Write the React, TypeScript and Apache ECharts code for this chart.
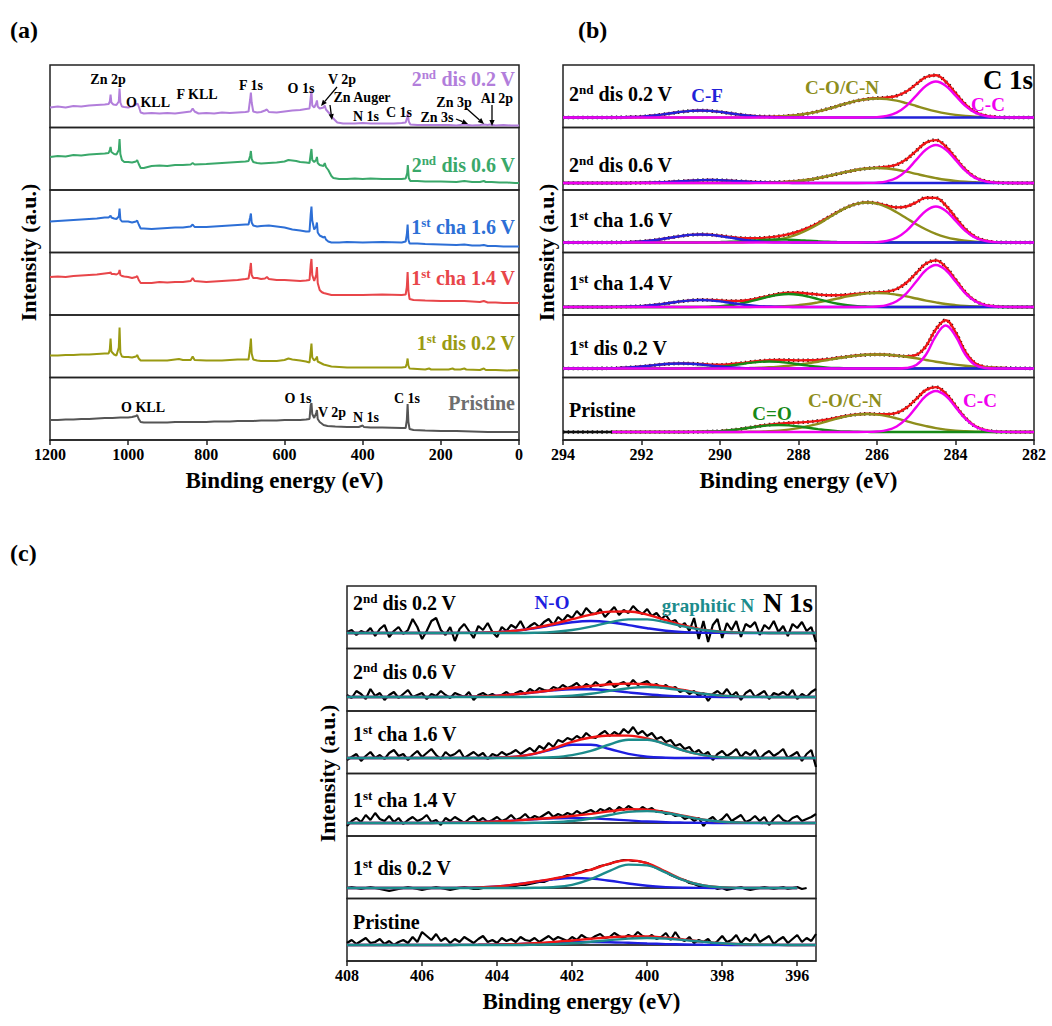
import React, { useEffect, useRef } from 'react';
import * as echarts from 'echarts';

const FONT = '"Liberation Serif", "Times New Roman", serif';

// ---------------- sample names (top to bottom) ----------------
const SAMPLE_ORD = ['2', '2', '1', '1', '1', ''];
const SAMPLE_SUP = ['nd', 'nd', 'st', 'st', 'st', ''];
const SAMPLE_REST = [' dis 0.2 V', ' dis 0.6 V', ' cha 1.6 V', ' cha 1.4 V', ' dis 0.2 V', 'Pristine'];

// ---------------- (a) survey spectra : [binding energy, intensity] ----------------
const SURVEY_DIS2_02 = [[1200,20],[1180,21],[1160,20],[1140,21.5],[1120,21],[1100,22],[1080,22.5],[1060,23],[1050,23.5],[1047,26],[1045,33],[1043,25],[1038,23],[1030,22.5],[1024,26],[1022,39],[1020,25],[1016,21],[1010,20.5],[1000,20],[990,21],[980,23],[976,24],[972,20],[968,15],[960,14],[940,14.5],[920,14],[900,14.5],[880,14],[860,15],[840,16],[835,19],[830,16],[820,14],[800,14.5],[780,14],[760,15],[740,14.5],[720,15],[700,15.5],[692,16],[688,28],[686,35],[684,25],[680,16],[670,15],[660,15.5],[650,17],[645,18],[640,15.5],[620,15],[600,16],[580,17],[560,17.5],[545,18.5],[536,19],[533,30],[531,37],[529,22],[524,20],[519,24],[517,27],[515,21],[510,19],[500,20],[497,22],[494,18],[485,14],[475,9],[465,5],[450,4],[420,4],[400,4.5],[380,4],[350,4],[320,4],[300,4.5],[290,5],[286,10],[284.5,14],[282,6],[278,3],[260,2.5],[240,2.5],[200,2.5],[180,2.5],[160,2],[140,3],[120,2],[100,2.5],[90,3],[80,2.5],[74,3],[60,2],[40,2.5],[20,2],[0,2]];
const SURVEY_DIS2_06 = [[1200,33],[1180,34],[1160,33.5],[1140,35],[1120,34.5],[1100,35.5],[1080,36],[1060,36.5],[1050,37],[1047,40],[1045,43],[1043,38],[1036,36],[1030,35.5],[1024,40],[1022,51],[1020,36],[1016,30],[1010,28],[1000,28],[990,27.5],[980,28.5],[977,30],[973,26],[968,22],[960,22],[940,24],[920,24.5],[900,24],[880,25],[860,25],[840,25.5],[835,27],[830,25.5],[800,26],[780,26.5],[760,27],[740,27.5],[720,28],[700,28.5],[692,29],[688,34],[686,39],[684,31],[680,28],[670,27],[660,26.5],[640,27],[620,27.5],[610,28],[600,28.5],[590,30],[580,29.5],[570,29],[560,28],[545,27.5],[536,27],[533,36],[531,41],[529,30],[524,28],[519,30],[517,33],[515,27],[510,25],[500,24],[497,27],[494,23],[488,20],[480,14],[475,12],[460,11],[440,11],[420,11.5],[400,11],[380,11.5],[350,11],[320,11],[300,11],[290,11.5],[286,17],[284.5,25],[282,12],[278,9],[260,9],[240,8.5],[200,8.5],[160,8],[140,9],[120,8],[100,8],[90,9],[85,8],[70,8],[50,7.5],[30,7.5],[10,7],[0,7]];
const SURVEY_CHA1_16 = [[1200,31],[1180,31.5],[1160,32],[1140,32.5],[1120,33],[1100,33.5],[1080,34],[1060,35],[1050,35],[1047,36],[1045,37],[1043,35],[1036,34],[1030,33.5],[1024,36],[1022,44],[1020,33],[1016,31],[1010,31],[1000,31],[990,30],[980,31],[977,32],[973,28],[968,24],[960,24],[940,23.5],[920,24],[900,24.5],[880,25],[860,25],[840,26],[835,28],[830,25.5],[800,25.5],[780,26],[760,26.5],[740,27],[720,27.5],[700,28],[692,28],[688,35],[686,39],[684,30],[680,27],[670,26],[660,26.5],[640,27],[620,26],[600,25],[580,23],[560,22],[545,21],[536,21],[533,38],[531,46],[529,32],[524,23],[519,26],[517,30],[515,20],[510,17],[500,15],[497,16],[494,13],[488,11],[480,10],[460,10],[440,10.5],[400,10],[350,10.5],[300,10],[290,11],[287,18],[285,28],[283,13],[280,9],[260,9],[240,8.5],[200,8],[160,7.5],[140,8],[120,7],[100,7],[90,7.5],[80,6.5],[60,6.5],[40,6],[20,6],[0,6]];
const SURVEY_CHA1_14 = [[1200,38],[1180,38.5],[1160,38],[1140,39],[1120,39.5],[1100,40],[1080,40.5],[1060,41.5],[1050,42],[1047,42],[1045,43],[1043,41],[1036,41],[1030,40.5],[1024,42],[1022,45],[1020,40],[1016,39],[1010,38.5],[1000,38],[990,37],[980,38],[977,39],[973,35],[968,32],[960,32],[940,32],[920,33],[900,32.5],[880,33],[860,33],[840,34],[835,37],[830,34],[800,33],[780,33.5],[760,34],[740,34.5],[720,35],[700,36],[692,36.5],[688,46],[686,52],[684,40],[680,37],[670,37],[660,36],[650,36.5],[645,38],[640,36],[620,35],[600,35],[580,34.5],[560,34],[545,34.5],[536,35],[533,50],[531,56],[529,40],[524,34],[519,40],[517,48],[515,32],[510,25],[505,23],[500,22],[490,21],[480,20],[450,20],[400,20],[350,20.5],[300,20],[290,20.5],[287,28],[285,43],[283,24],[280,16],[270,15],[240,14.5],[200,14],[160,14],[140,14],[120,13.5],[100,13],[90,14],[80,12.5],[60,12.5],[40,12],[20,12],[0,12]];
const SURVEY_DIS1_02 = [[1200,22],[1180,22],[1160,22.5],[1140,22.5],[1120,23],[1100,23],[1080,23.5],[1060,24],[1050,24],[1047,28],[1045,39],[1043,26],[1036,23],[1030,22],[1024,30],[1022,50],[1020,25],[1016,21],[1010,20.5],[1000,20.5],[990,20],[980,21],[977,22.5],[973,19],[968,17],[960,17],[940,17],[920,17],[900,17],[880,18],[870,18.5],[860,17.5],[840,17.5],[835,21],[830,17.5],[800,17],[780,17],[760,17],[740,17.5],[720,18],[700,18],[692,18],[688,30],[686,39],[684,24],[680,18],[670,17],[660,16.5],[640,16.5],[620,16.5],[610,17],[600,17.5],[590,19],[580,18],[560,17],[545,16],[536,15],[533,26],[531,34],[529,20],[524,17],[519,19],[517,21],[515,16],[510,15],[505,14],[500,13],[490,12],[480,11],[460,10.5],[440,10],[400,10],[350,10],[300,10],[290,10.5],[287,14],[285,19],[283,12],[280,9],[260,8.5],[240,8],[230,9],[225,8],[200,8],[180,8],[170,9],[165,8],[150,8],[140,9],[135,8],[100,7.5],[90,9],[85,7.5],[60,7.5],[30,7],[10,7.5],[0,7]];
const SURVEY_PRISTINE = [[1200,20],[1180,20],[1160,20.5],[1140,20.5],[1120,21],[1100,21],[1080,21.5],[1060,22],[1040,22],[1020,22.5],[1000,22.5],[990,23],[980,24],[977,25],[973,21],[968,18],[960,17.5],[940,17.5],[920,17.5],[900,17.5],[880,18],[860,18],[840,18],[820,18],[800,18],[780,18.5],[760,18.5],[740,18.5],[720,19],[700,19],[680,19],[660,19.5],[640,19.5],[620,19.5],[600,20],[580,20],[560,20],[545,20.5],[536,21],[533,35],[531,37],[529,26],[524,22],[519,27],[517,30],[515,21],[510,18],[500,15],[490,14],[470,13.5],[440,13],[410,13],[400,14.5],[397,13],[380,12.5],[350,12.5],[300,12],[290,12],[287,20],[285,36],[283,18],[280,11],[270,10],[240,9.5],[200,9],[160,9],[120,8.5],[80,8],[40,8],[0,8]];
const SURVEYS = [SURVEY_DIS2_02, SURVEY_DIS2_06, SURVEY_CHA1_16, SURVEY_CHA1_14, SURVEY_DIS1_02, SURVEY_PRISTINE];
const SURVEY_TICKS = [0, 200, 400, 600, 800, 1000, 1200];

// ---------------- (b) C 1s fitted components (0.25 eV steps, listed from start energy downward) ----------------
const C1S_STEP = 0.25;
const C1S_CC_START = [286.25, 286.25, 286.25, 286.25, 285.25, 286.25];
const C1S_CC = [
  [0.1,0.4,1.6,4.9,11.7,21.9,31.8,36,31.8,21.9,11.7,4.9,1.6,0.4,0.1],
  [0.1,0.4,1.7,5.1,12.4,23.1,33.5,38,33.5,23.1,12.4,5.1,1.7,0.4,0.1],
  [0.1,0.4,1.6,4.9,11.7,21.9,31.8,36,31.8,21.9,11.7,4.9,1.6,0.4,0.1],
  [0.1,0.5,1.8,5.7,13.7,25.5,37,42,37,25.5,13.7,5.7,1.8,0.5,0.1],
  [0.5,3.4,14,32.5,43,32.5,14,3.4,0.5],
  [0.1,0.5,1.8,5.5,13.3,24.9,36.2,41,36.2,24.9,13.3,5.5,1.8,0.5,0.1],
];
const C1S_CO_START = [289.0, 289.0, 289.25, 289.0, 289.75, 289.25];
const C1S_CO = [
  [0.2,0.4,0.8,1.5,2.6,4.1,6.2,8.7,11.5,14.3,16.8,18.4,19,18.4,16.8,14.3,11.5,8.7,6.2,4.1,2.6,1.5,0.8,0.4,0.2],
  [0.2,0.3,0.7,1.2,2.0,3.2,4.9,6.9,9.1,11.3,13.2,14.5,15,14.5,13.2,11.3,9.1,6.9,4.9,3.2,2.0,1.2,0.7,0.3,0.2],
  [0.4,0.9,1.8,3.2,5.4,8.6,13,18.3,24.3,30.2,35.3,38.8,40,38.8,35.3,30.2,24.3,18.3,13,8.6,5.4,3.2,1.8,0.9,0.4],
  [0.2,0.3,0.6,1.1,1.9,3.0,4.6,6.4,8.5,10.6,12.3,13.6,14,13.6,12.3,10.6,8.5,6.4,4.6,3.0,1.9,1.1,0.6,0.3,0.2],
  [0.2,0.3,0.5,0.8,1.2,1.9,2.8,3.9,5.3,6.8,8.5,10.2,11.7,12.9,13.7,14,13.7,12.9,11.7,10.2,8.5,6.8,5.3,3.9,2.8,1.9,1.2,0.8,0.5,0.3,0.2],
  [0.2,0.4,0.8,1.4,2.4,3.9,5.9,8.2,10.9,13.6,15.9,17.4,18,17.4,15.9,13.6,10.9,8.2,5.9,3.9,2.4,1.4,0.8,0.4,0.2],
];
const C1S_CF_START = [292.75, 292.25, 292.75, 292.75, 293.0, 0];
const C1S_CF = [
  [0.1,0.2,0.5,0.9,1.7,2.9,4.2,5.6,6.6,7,6.6,5.6,4.2,2.9,1.7,0.9,0.5,0.2,0.1],
  [0.1,0.2,0.4,0.7,1.2,1.8,2.4,2.8,3,2.8,2.4,1.8,1.2,0.7,0.4,0.2,0.1],
  [0.1,0.2,0.5,1.1,2.0,3.3,4.9,6.4,7.6,8,7.6,6.4,4.9,3.3,2.0,1.1,0.5,0.2,0.1],
  [0.1,0.2,0.5,0.9,1.7,2.9,4.2,5.6,6.6,7,6.6,5.6,4.2,2.9,1.7,0.9,0.5,0.2,0.1],
  [0.1,0.3,0.7,1.2,2.0,3.0,4.0,4.7,5,4.7,4.0,3.0,2.0,1.2,0.7,0.3,0.1],
  [],
];
const C1S_CDO_START = [0, 0, 290.5, 290.5, 291.0, 290.75];
const C1S_CDO = [
  [],
  [],
  [0.1,0.2,0.4,0.7,1.2,1.8,2.4,2.8,3,2.8,2.4,1.8,1.2,0.7,0.4,0.2,0.1],
  [0.1,0.4,0.9,1.8,3.2,5.3,7.9,10.4,12.3,13,12.3,10.4,7.9,5.3,3.2,1.8,0.9,0.4,0.1],
  [0.1,0.2,0.5,0.9,1.7,2.9,4.2,5.6,6.6,7,6.6,5.6,4.2,2.9,1.7,0.9,0.5,0.2,0.1],
  [0.1,0.2,0.5,0.9,1.7,2.9,4.2,5.6,6.6,7,6.6,5.6,4.2,2.9,1.7,0.9,0.5,0.2,0.1],
];
const C1S_FIT_FROM = [294, 294, 294, 294, 294, 292.75];
const C1S_TICKS = [282, 284, 286, 288, 290, 292, 294];

// ---------------- (c) N 1s : fits on 0.5 eV steps from 408 eV, raw data on 0.125 eV steps from 408 eV ----------------
const N1S_FIT_STEP = 0.5;
const N1S_DATA_STEP = 0.125;
const N1S_NO = [
  [0,0,0,0,0,0,0.1,0.3,0.9,2.3,4.8,7.9,10.8,12,10.8,7.9,4.8,2.3,0.9,0.3,0.1,0,0,0,0,0],
  [0,0,0,0,0,0,0.2,0.6,1.4,2.8,4.6,6.6,7.8,7.8,6.6,4.6,2.8,1.4,0.6,0.2,0,0,0,0,0,0],
  [0,0,0,0,0,0,0,0,0.3,1.3,4.1,9.0,13.3,13.3,9.0,4.1,1.3,0.3,0,0,0,0,0,0,0,0],
  [0,0,0,0,0,0.1,0.4,0.8,1.5,2.6,3.7,4.6,5,4.6,3.7,2.6,1.5,0.8,0.4,0.1,0,0,0,0,0,0],
  [0,0,0,0,0,0,0.2,0.6,1.6,3.5,6.1,8.6,10,9.4,7.2,4.5,2.2,0.9,0.3,0.1,0,0,0,0,0],
  [0,0,0,0,0,0,0.1,0.2,0.5,0.9,1.5,2.2,2.8,3,2.8,2.2,1.5,0.9,0.5,0.2,0.1,0,0,0,0,0],
];
const N1S_GN = [
  [0,0,0,0,0,0,0,0,0,0,0.3,1.1,3.0,6.4,10.6,13.6,13.6,10.6,6.4,3.0,1.1,0.3,0.1,0,0,0],
  [0,0,0,0,0,0,0,0,0,0,0.1,0.4,1.4,3.2,6.1,8.8,10,8.8,6.1,3.2,1.4,0.4,0.1,0,0,0],
  [0,0,0,0,0,0,0,0,0,0,0.2,0.8,2.9,7.2,13.5,18.3,18.3,13.5,7.2,2.9,0.8,0.2,0,0,0,0],
  [0,0,0,0,0,0,0,0,0,0,0.2,0.7,2.0,4.5,8.0,11.1,11.9,10.0,6.6,3.3,1.3,0.4,0.1,0,0,0],
  [0,0,0,0,0,0,0,0,0,0,0.2,0.8,3.2,8.9,17.1,23.4,22.6,15.4,7.4,2.5,0.6,0.1,0,0,0],
  [0,0,0,0,0,0,0,0,0,0,0.3,0.8,1.7,3.2,4.9,6.4,7,6.4,4.9,3.2,1.7,0.8,0.3,0.1,0,0],
];
const N1S_DATA = [
  [1,3,-2,2,0,5,-3,4,8,-4,2,6,-1,3,14,6,
   -6,2,12,15,3,-2,6,-8,4,9,2,-5,7,3,10,1,
   -4,6,2,8,5,12,3,7,10,6,11,14,8,16,12,18,
   15,22,17,25,20,19,24,16,21,26,18,23,20,27,22,19,
   24,17,20,14,18,11,13,6,10,2,15,-6,12,-9,8,14,
   -5,10,3,12,-4,9,6,11,-2,8,4,12,1,7,-3,9,5,11,2,6,-9],
  [2,-1,6,3,-2,8,1,4,-3,2,5,-1,3,7,0,2,
   4,-2,3,1,6,2,-1,4,2,0,5,-3,2,4,1,3,
   0,2,5,1,4,6,3,8,5,9,7,6,10,8,12,9,
   11,14,9,13,10,15,11,12,16,10,13,15,11,17,12,14,
   16,11,13,9,12,8,10,5,7,3,6,1,4,-4,3,6,
   2,8,1,5,-3,4,7,0,3,6,-2,4,2,5,1,7,-2,3,0,5,8],
  [-2,1,4,-3,2,6,0,3,-1,5,8,2,4,-2,3,7,
   1,5,9,3,-1,6,2,4,8,0,3,6,2,5,-1,4,
   2,6,3,5,8,4,7,10,6,12,9,15,11,18,16,20,
   18,22,19,25,21,20,24,27,22,26,23,29,25,31,24,27,
   22,25,19,21,16,18,12,14,9,11,5,8,3,6,-2,4,
   7,2,5,9,1,6,3,8,-1,4,7,2,5,9,0,3,6,-3,4,8,-9],
  [-3,2,5,1,8,3,10,4,2,7,1,5,-1,3,6,2,
   4,8,1,3,-2,5,2,6,3,0,4,7,2,5,1,3,
   6,2,4,8,3,5,9,4,7,5,8,11,6,9,7,10,
   8,12,9,11,13,10,14,12,15,11,16,13,17,14,12,16,
   13,15,11,12,9,10,7,8,4,6,2,5,-3,3,6,1,
   4,9,2,5,8,1,3,7,2,6,-2,4,8,3,1,5,7,2,4,6,9],
  [0,1,0,-1,0,1,0,-1,-2,-3,-2,-1,0,1,0,-1,
   -2,-1,0,1,0,-1,-2,-1,0,1,0,-1,-1,0,1,0,
   0,1,1,2,2,3,3,4,5,6,6,8,9,10,11,13,
   13,15,16,18,18,20,22,23,24,26,27,28,28,27,27,26,
   25,22,20,18,16,13,11,9,8,5,4,2,2,0,1,-1,
   0,-2,-1,0,1,-1,-2,-1,0,1,0,-1,0,1,-1,0,1,-1,0],
  [2,5,1,4,7,2,3,6,1,4,0,3,5,2,8,3,
   13,9,5,11,4,7,2,6,3,8,5,2,6,9,3,5,
   2,7,4,6,3,8,5,4,7,3,6,9,5,8,6,4,
   8,5,10,7,6,9,11,7,8,12,9,7,10,8,13,9,
   7,10,6,8,12,5,13,6,4,8,2,5,3,6,0,4,
   9,3,5,10,2,7,4,11,3,6,9,1,5,8,2,6,10,3,7,4,11],
];
const N1S_TICKS = [396, 398, 400, 402, 404, 406, 408];

// ---------------- layout / style ----------------
const PANEL_H = 62.5;
const A_BOX = { left: 50, top: 65, width: 469 };
const B_BOX = { left: 563, top: 65, width: 471 };
const C_BOX = { left: 347, top: 586, width: 469 };
const C1S_BASE_PX = [10, 7, 10, 8, 9, 8];
const N1S_BASE_PX = [15.5, 14, 15.5, 13, 10.5, 16];
const SURVEY_COLORS = ['#B27EDB', '#3AA86A', '#2D6FD6', '#E8464A', '#9A9A12', '#555555'];
const SURVEY_LABEL_COLORS = ['#B27EDB', '#3AA86A', '#2D6FD6', '#E8464A', '#9A9A12', '#6E6E6E'];
const COL = { cc: '#F000F0', co: '#8E8E1C', cf: '#2222D8', cdo: '#178A17', env: '#F01414', data: '#111111', no: '#1E1EE0', gn: '#1C8C8C' };

function place(grid: number[], start: number, vals: number[], step: number) {
  return grid.map((x) => {
    const k = Math.round((start - x) / step);
    return k >= 0 && k < vals.length ? vals[k] : 0;
  });
}

function sampleRich(i: number, size: number, color: string) {
  const n = { fontSize: size, lineHeight: size + 3, fontFamily: FONT, fontWeight: 'bold', fill: color, color, verticalAlign: 'middle' };
  const s = { fontSize: Math.round(size * 0.63), lineHeight: Math.round(size * 0.63), fontFamily: FONT, fontWeight: 'bold', fill: color, color, verticalAlign: 'top' };
  const text = SAMPLE_SUP[i] ? `{n|${SAMPLE_ORD[i]}}{s|${SAMPLE_SUP[i]}}{n|${SAMPLE_REST[i]}}` : `{n|${SAMPLE_REST[i]}}`;
  return { text, rich: { n, s } };
}

function txt(x: number, y: number, text: string, size: number, color: string, align = 'center', extra: any = {}) {
  return {
    type: 'text', x, y, z: 100, silent: true,
    style: { text, fill: color, font: `bold ${size}px ${FONT}`, fontSize: size, fontWeight: 'bold', fontFamily: FONT, textAlign: align, align, verticalAlign: 'middle', textVerticalAlign: 'middle', ...extra },
  };
}

function sampleText(x: number, y: number, i: number, size: number, color: string, align: string) {
  const r = sampleRich(i, size, color);
  return {
    type: 'text', x, y, z: 100, silent: true,
    style: { text: r.text, rich: r.rich, fill: color, fontSize: size, fontFamily: FONT, fontWeight: 'bold', textAlign: align, align, verticalAlign: 'middle', textVerticalAlign: 'middle' },
  };
}

function arrow(x1: number, y1: number, x2: number, y2: number) {
  const a = Math.atan2(y2 - y1, x2 - x1);
  const L = 6, W = 2.6;
  const bx = x2 - L * Math.cos(a), by = y2 - L * Math.sin(a);
  const px = -Math.sin(a) * W, py = Math.cos(a) * W;
  return [
    { type: 'line', z: 100, silent: true, shape: { x1, y1, x2: bx, y2: by }, style: { stroke: '#000', lineWidth: 1.3 } },
    { type: 'polygon', z: 100, silent: true, shape: { points: [[x2, y2], [bx + px, by + py], [bx - px, by - py]] }, style: { fill: '#000' } },
  ];
}

function buildOption() {
  const grid: any[] = [];
  const xAxis: any[] = [];
  const yAxis: any[] = [];
  const series: any[] = [];

  const addPanel = (box: any, row: number, xmin: number, xmax: number, ymin: number, ymax: number, ticks: number[]) => {
    const idx = grid.length;
    const isBottom = row === 5;
    grid.push({ left: box.left, top: box.top + row * PANEL_H, width: box.width, height: PANEL_H, show: true, borderColor: '#222', borderWidth: 1.5, backgroundColor: 'transparent', containLabel: false });
    xAxis.push({
      gridIndex: idx, type: 'value', min: xmin, max: xmax, inverse: true, show: isBottom,
      axisLine: { show: true, onZero: false, lineStyle: { color: '#222', width: 1.5 } },
      axisTick: { show: true, inside: false, length: 5, lineStyle: { color: '#222', width: 1.5 }, customValues: ticks },
      axisLabel: { show: true, margin: 6, color: '#000', fontFamily: FONT, fontWeight: 'bold', fontSize: 16, customValues: ticks, formatter: (v: number) => String(v) },
      splitLine: { show: false },
      name: isBottom ? 'Binding energy (eV)' : '', nameLocation: 'middle', nameGap: 29,
      nameTextStyle: { color: '#000', fontFamily: FONT, fontWeight: 'bold', fontSize: 23 },
    });
    yAxis.push({ gridIndex: idx, type: 'value', min: ymin, max: ymax, show: false, splitLine: { show: false } });
    return idx;
  };
  const line = (ai: number, data: any[], color: string, width: number, smooth: any, extra: any = {}) => {
    series.push({
      type: 'line', xAxisIndex: ai, yAxisIndex: ai, data, showSymbol: false, symbol: 'none', silent: true,
      smooth, clip: true, animation: false, lineStyle: { color, width, ...(extra.lineStyle || {}) },
    });
  };

  // (a)
  for (let r = 0; r < 6; r++) {
    const ai = addPanel(A_BOX, r, 0, 1200, 0, PANEL_H, SURVEY_TICKS);
    line(ai, SURVEYS[r], SURVEY_COLORS[r], 2, false);
  }

  // (b)
  const c1sGrid: number[] = [];
  for (let k = 0; k <= Math.round((294 - 282) / C1S_STEP); k++) c1sGrid.push(294 - k * C1S_STEP);
  for (let r = 0; r < 6; r++) {
    const base = C1S_BASE_PX[r];
    const ai = addPanel(B_BOX, r, 282, 294, -base, PANEL_H - base, C1S_TICKS);
    const g = c1sGrid.filter((x) => x <= C1S_FIT_FROM[r] + 1e-9);
    const cc = place(g, C1S_CC_START[r], C1S_CC[r], C1S_STEP);
    const co = place(g, C1S_CO_START[r], C1S_CO[r], C1S_STEP);
    const cf = place(g, C1S_CF_START[r], C1S_CF[r], C1S_STEP);
    const cdo = place(g, C1S_CDO_START[r], C1S_CDO[r], C1S_STEP);
    const env = g.map((_, i) => cc[i] + co[i] + cf[i] + cdo[i]);
    const dataY = c1sGrid.map((x) => { const i = g.indexOf(x); return i >= 0 ? env[i] : 0; });
    if (C1S_FIT_FROM[r] < 294) {
      line(ai, c1sGrid.filter((x) => x >= C1S_FIT_FROM[r] - 1e-9).map((x) => [x, 0]), COL.data, 2.4, false);
    }
    line(ai, c1sGrid.map((x, i) => [x, dataY[i]]), COL.data, 3.6, 0.4, { lineStyle: { type: [1.4, 3.4] } });
    line(ai, g.map((x, i) => [x, env[i]]), COL.env, 2.4, 0.4);
    line(ai, g.map((x, i) => [x, co[i]]), COL.co, 2.4, 0.4);
    if (C1S_CDO[r].length) line(ai, g.map((x, i) => [x, cdo[i]]), COL.cdo, 2.4, 0.4);
    if (C1S_CF[r].length) line(ai, g.map((x, i) => [x, cf[i]]), COL.cf, 2.4, 0.4);
    line(ai, g.map((x, i) => [x, cc[i]]), COL.cc, 2.4, 0.4);
  }

  // (c)
  for (let r = 0; r < 6; r++) {
    const base = N1S_BASE_PX[r];
    const ai = addPanel(C_BOX, r, 395.5, 408, -base, PANEL_H - base, N1S_TICKS);
    const data = N1S_DATA[r].map((v, i) => [408 - i * N1S_DATA_STEP, v]);
    const fx = N1S_NO[r].map((_, i) => 408 - i * N1S_FIT_STEP);
    const env = fx.map((_, i) => N1S_NO[r][i] + N1S_GN[r][i]);
    line(ai, data, '#000', 2.2, false);
    line(ai, fx.map((x) => [x, 0]), '#000', 1.6, false);
    line(ai, fx.map((x, i) => [x, N1S_NO[r][i]]), COL.no, 2.4, 0.4);
    line(ai, fx.map((x, i) => [x, env[i]]), COL.env, 2.4, 0.4);
    line(ai, fx.map((x, i) => [x, N1S_GN[r][i]]), COL.gn, 2.4, 0.4);
  }

  // ---------------- graphics (texts) ----------------
  const g: any[] = [];
  g.push(txt(10, 30, '(a)', 24, '#000', 'left'));
  g.push(txt(578, 30, '(b)', 24, '#000', 'left'));
  g.push(txt(10, 553, '(c)', 24, '#000', 'left'));
  const yTitle = (x: number, y: number) => { const t: any = txt(x, y, 'Intensity (a.u.)', 22, '#000', 'center'); t.rotation = Math.PI / 2; return t; };
  g.push(yTitle(28, A_BOX.top + 3 * PANEL_H));
  g.push(yTitle(546, B_BOX.top + 3 * PANEL_H));
  g.push(yTitle(327, C_BOX.top + 3 * PANEL_H));

  // (a) sample names
  const aY = [79, 165, 227, 278, 343, 403];
  for (let r = 0; r < 6; r++) g.push(sampleText(515, aY[r], r, 20, SURVEY_LABEL_COLORS[r], 'right'));
  // (a) peak labels
  const pk = 14;
  [['Zn 2p', 108, 79], ['O KLL', 148, 102], ['F KLL', 197, 94], ['F 1s', 251, 85], ['O 1s', 301, 88], ['V 2p', 342, 79],
   ['Zn Auger', 362, 97], ['N 1s', 366, 116], ['C 1s', 399, 112], ['Zn 3s', 437, 117], ['Zn 3p', 454, 102], ['Al 2p', 497, 98],
   ['O KLL', 143, 407], ['O 1s', 298, 398], ['V 2p', 332, 412], ['N 1s', 366, 417], ['C 1s', 407, 398]].forEach((a: any) => g.push(txt(a[1], a[2], a[0], pk, '#000')));
  g.push(...arrow(337, 87, 321, 106));
  g.push(...arrow(330, 105, 332, 120));
  g.push(...arrow(456, 119, 468, 124));
  g.push(...arrow(466, 108, 484, 124));
  g.push(...arrow(492, 105, 492, 126));

  // (b)
  const bY = [94, 165, 220, 283, 348, 410];
  for (let r = 0; r < 6; r++) g.push(sampleText(569, bY[r], r, 20, '#000', 'left'));
  g.push(txt(707, 95, 'C-F', 19, COL.cf));
  g.push(txt(842, 87, 'C-O/C-N', 19, COL.co));
  g.push(txt(1008, 80, 'C 1s', 27, '#000'));
  g.push(txt(988, 104, 'C-C', 19, COL.cc));
  g.push(txt(772, 413, 'C=O', 19, COL.cdo));
  g.push(txt(845, 400, 'C-O/C-N', 19, COL.co));
  g.push(txt(980, 400, 'C-C', 19, COL.cc));

  // (c)
  const cY = [603, 672, 734, 800, 868, 922];
  for (let r = 0; r < 6; r++) g.push(sampleText(353, cY[r], r, 20, '#000', 'left'));
  g.push(txt(552, 602, 'N-O', 19, COL.no));
  g.push(txt(708, 605, 'graphitic N', 19, COL.gn));
  g.push(txt(788, 603, 'N 1s', 27, '#000'));

  return {
    animation: false,
    backgroundColor: '#ffffff',
    textStyle: { fontFamily: FONT },
    grid, xAxis, yAxis, series,
    graphic: { elements: g },
  };
}

export default function App() {
  const ref = useRef<HTMLDivElement>(null);
  useEffect(() => {
    document.body.style.margin = '0';
    const chart = echarts.init(ref.current as HTMLDivElement, null, { renderer: 'svg' });
    chart.setOption(buildOption() as any);
    return () => chart.dispose();
  }, []);
  return <div ref={ref} style={{ width: 1052, height: 1026, background: '#fff', overflow: 'hidden' }} />;
}
